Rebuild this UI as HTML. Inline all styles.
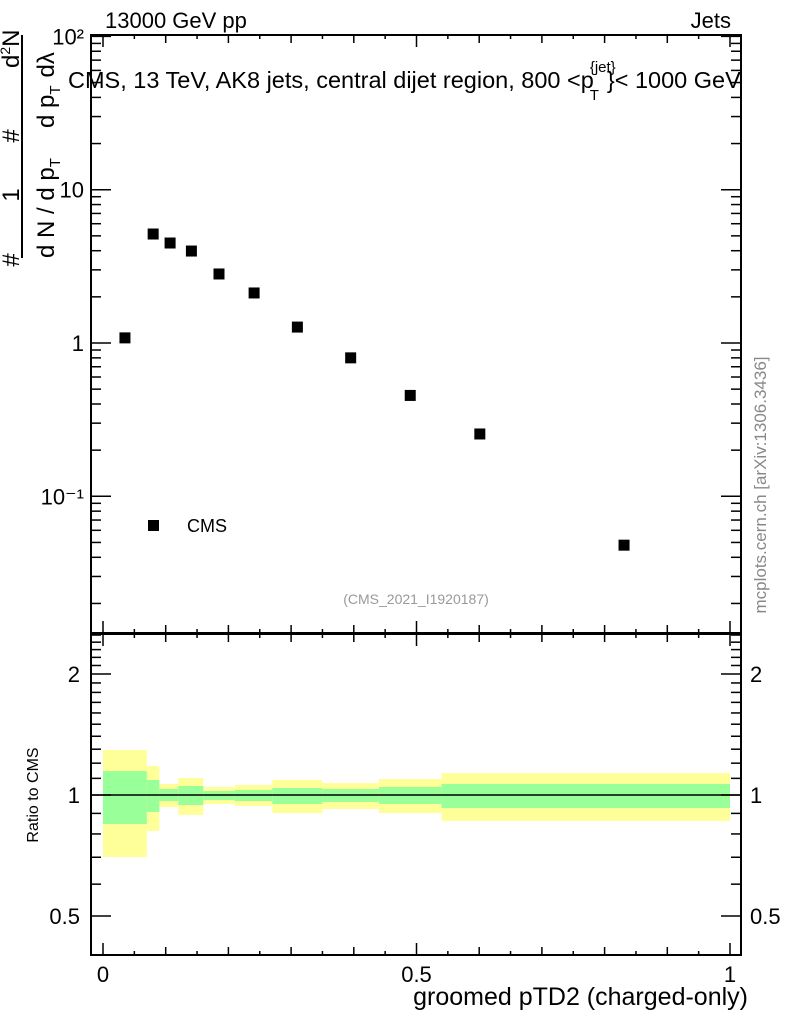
<!DOCTYPE html>
<html><head><meta charset="utf-8"><style>
html,body{margin:0;padding:0;background:#fff;}
svg{display:block;font-family:"Liberation Sans",sans-serif;}
</style></head><body>
<svg id="c" width="786" height="1024" viewBox="0 0 786 1024"></svg>
<script>
const xs=[0.035,0.080,0.107,0.141,0.185,0.241,0.310,0.395,0.490,0.601,0.831];
const ys=[1.08,5.14,4.49,3.98,2.82,2.12,1.27,0.80,0.455,0.255,0.048];
const binEdges=[0,0.07,0.09,0.12,0.16,0.21,0.27,0.35,0.44,0.54,1.0];
const yelHi=[1.294,1.181,1.065,1.102,1.047,1.059,1.090,1.071,1.096,1.134];
const yelLo=[0.701,0.814,0.933,0.892,0.950,0.939,0.902,0.923,0.902,0.862];
const grnHi=[1.147,1.090,1.035,1.053,1.023,1.029,1.041,1.035,1.047,1.065];
const grnLo=[0.847,0.907,0.966,0.944,0.972,0.966,0.950,0.961,0.950,0.928];
const mainTicks=[0.1,1,10,100];
const mainTickLabels=["10\u207B\u00B9","1","10","10\u00B2"];
const ratioTicks=[0.5,1,2];
const ratioTickLabels=["0.5","1","2"];
const xTicks=[0,0.5,1];
const xTickLabels=["0","0.5","1"];

const NS="http://www.w3.org/2000/svg";
const svg=document.getElementById('c');
function el(t,a,p){const e=document.createElementNS(NS,t);for(const k in a)e.setAttribute(k,a[k]);(p||svg).appendChild(e);return e;}
const L=91,R=741,T=35,B=633,RT=634,RB=955;
const X=v=>103+v*627;
const Y=v=>343-Math.log10(v)*153.3;
const YR=v=>795-Math.log2(v)*121;

const gb=el('g',{});


for(let i=0;i<binEdges.length-1;i++){
  const x0=X(binEdges[i]),x1=X(binEdges[i+1]);
  const r1=el('rect',{x:x0,y:YR(yelHi[i]),width:x1-x0,height:YR(yelLo[i])-YR(yelHi[i]),fill:'#ffff99'},gb);
  
  
  const r2=el('rect',{x:x0,y:YR(grnHi[i]),width:x1-x0,height:YR(grnLo[i])-YR(grnHi[i]),fill:'#99ff99'},gb);
  
  
}
const one=el('line',{x1:L,x2:R,y1:YR(1),y2:YR(1),stroke:'#000','stroke-width':1.5});



const f1=el('rect',{x:L,y:T,width:R-L,height:B-T,fill:'none',stroke:'#000','stroke-width':2});


const f2=el('rect',{x:L,y:RT,width:R-L,height:RB-RT,fill:'none',stroke:'#000','stroke-width':2});



for(let k=0;k<=20;k++){
  const v=k*0.05,x=X(v);
  const len=(k%10==0)?12:(k%2==0?8:4);
  for(const [yb,dir] of [[B,-1],[T,1],[RB,-1],[RT,1]]){
    el('line',{x1:x,x2:x,y1:yb,y2:yb+dir*len,stroke:'#000','stroke-width':1.5});
  }
}
xTicks.forEach((v,i)=>{
  const t=el('text',{x:X(v),y:982,'font-size':22,'text-anchor':'middle'});
  t.textContent=xTickLabels[i];
  
  
});
for(let d=-2;d<=1;d++){
  for(let m=1;m<=9;m++){
    const v=m*Math.pow(10,d),y=Y(v);
    if(y<T||y>B)continue;
    const len=m==1?20:10;
    el('line',{x1:L,x2:L+len,y1:y,y2:y,stroke:'#000','stroke-width':1.5});
    el('line',{x1:R,x2:R-len,y1:y,y2:y,stroke:'#000','stroke-width':1.5});
  }
}
el('line',{x1:L,x2:L+20,y1:Y(100),y2:Y(100),stroke:'#000','stroke-width':1.5});
el('line',{x1:R,x2:R-20,y1:Y(100),y2:Y(100),stroke:'#000','stroke-width':1.5});
mainTicks.forEach((v,i)=>{
  const t=el('text',{x:84,y:Y(v)+8,'font-size':22,'text-anchor':'end'});
  t.textContent=mainTickLabels[i];
  
  
});
for(let v=0.5;v<=2.51;v+=0.1){
  const y=YR(v);if(y<RT||y>RB)continue;
  const major=ratioTicks.some(r=>Math.abs(r-v)<1e-6);
  const len=major?20:10;
  el('line',{x1:L,x2:L+len,y1:y,y2:y,stroke:'#000','stroke-width':1.5});
  el('line',{x1:R,x2:R-len,y1:y,y2:y,stroke:'#000','stroke-width':1.5});
}
ratioTicks.forEach((v,i)=>{
  const t=el('text',{x:80,y:YR(v)+8,'font-size':22,'text-anchor':'end'});
  t.textContent=ratioTickLabels[i];
  
  
  const t2=el('text',{x:750,y:YR(v)+8,'font-size':22});
  t2.textContent=ratioTickLabels[i];
  
  
});
xs.forEach((v,i)=>{
  const r=el('rect',{x:X(v)-5.5,y:Y(ys[i])-5.5,width:11,height:11,fill:'#000'});
  
  
});
</script>
<svg width="786" height="1024" style="position:absolute;left:0;top:0">
<text x="105" y="28" font-size="22" font-family="Liberation Sans">13000 GeV pp</text>
<text x="731" y="28" font-size="22" text-anchor="end" font-family="Liberation Sans">Jets</text>
<text x="68" y="88" font-size="23.5" font-family="Liberation Sans">CMS, 13 TeV, AK8 jets, central dijet region, 800 &lt;p<tspan font-size="15" dy="-16" dx="-4">{jet}</tspan><tspan font-size="15" dy="28" dx="-26">T</tspan><tspan dy="-12" dx="8">}&lt; 1000 GeV</tspan></text>
<rect x="148" y="520" width="11" height="11" fill="#000"/>
<text x="187" y="532" font-size="18" font-family="Liberation Sans">CMS</text>
<text x="416" y="604" font-size="14" fill="#999" text-anchor="middle" font-family="Liberation Sans">(CMS_2021_I1920187)</text>
<text x="748" y="1005" font-size="25" text-anchor="end" font-family="Liberation Sans">groomed pTD2 (charged-only)</text>
<text transform="translate(38,795) rotate(-90)" font-size="16" text-anchor="middle" font-family="Liberation Sans">Ratio to CMS</text>
<text transform="translate(766,485) rotate(-90)" font-size="17" fill="#888" text-anchor="middle" font-family="Liberation Sans">mcplots.cern.ch [arXiv:1306.3436]</text>
<g font-family="Liberation Sans" font-size="24">
<line x1="22" y1="35" x2="22" y2="258" stroke="#000" stroke-width="2"/>
<text transform="translate(19,260) rotate(-90)" text-anchor="middle">#</text>
<text transform="translate(19,195) rotate(-90)" text-anchor="middle">1</text>
<text transform="translate(19,136) rotate(-90)" text-anchor="middle">#</text>
<text transform="translate(19,68) rotate(-90)">d<tspan font-size="14" dy="-9">2</tspan><tspan dy="9">N</tspan></text>
<text transform="translate(54,258) rotate(-90)">d N / d p<tspan font-size="15" dy="6">T</tspan></text>
<text transform="translate(54,128) rotate(-90)">d p<tspan font-size="15" dy="6">T</tspan><tspan dy="-6" dx="8">d&#955;</tspan></text>
</g>
</svg>
</body></html>
